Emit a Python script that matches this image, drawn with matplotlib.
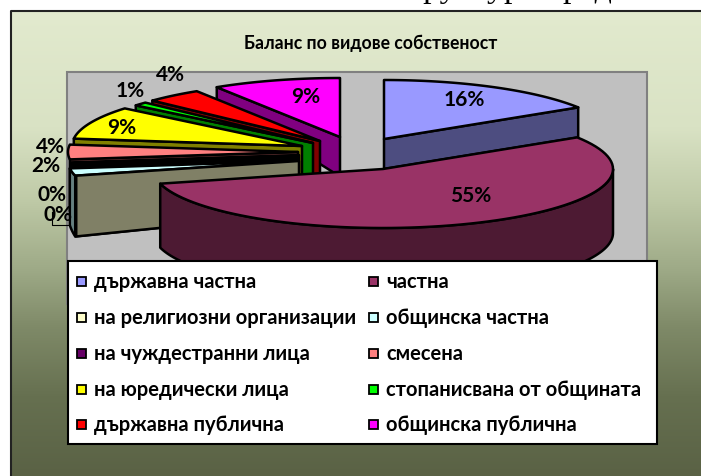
import numpy as np
import matplotlib
matplotlib.use('Agg')
import matplotlib.pyplot as plt
from matplotlib import patches
from matplotlib.colors import LinearSegmentedColormap, to_rgb

title = 'Баланс по видове собственост'
categories = ['държавна частна', 'частна', 'на религиозни организации', 'общинска частна',
              'на чуждестранни лица', 'смесена', 'на юредически лица',
              'стопанисвана от общината', 'държавна публична', 'общинска публична']
values = [16, 55, 0, 2, 0, 4, 9, 1, 4, 9]
colors = ['#9999FF', '#993366', '#FFFFCC', '#CCFFFF', '#660066',
          '#FF8080', '#FFFF00', '#00FF00', '#FF0000', '#FF00FF']

# where each exploded slice has its tip, in pixels
apex = [(384, 140), (383, 170), (299, 162), (298, 162), (299, 156),
        (298, 153), (302, 147), (313, 144), (320, 142), (340, 138)]
label_xy = [(464, 100), (471, 196), (58, 215), (46, 166), (52, 195),
            (50, 147), (122, 128), (130, 91), (170, 75), (306, 97)]
RX, RY = 230, 59

plt.rcParams['font.family'] = ['Lato', 'Noto Sans', 'DejaVu Sans']
fig = plt.figure(figsize=(7.01, 4.77), dpi=100)
ax = fig.add_axes([0, 0, 1, 1])
ax.set_xlim(0, 701)
ax.set_ylim(477, 0)
ax.axis('off')

# background gradient of the chart area
cmap = LinearSegmentedColormap.from_list('bg', [(0, '#E2EACE'), (0.25, '#D9E2C4'), (0.40, '#C0CBA8'),
                                               (0.555, '#9EAA87'), (0.68, '#7F8A68'), (0.83, '#667050'),
                                               (1, '#5A6245')])
ax.imshow(np.linspace(0, 1, 256)[:, None], extent=(11, 701, 477, 12), cmap=cmap, aspect='auto', zorder=0)
ax.plot([11, 11, 701], [477, 12, 12], color='#222222', lw=1.5, zorder=1)
# page text cut off above the chart
ax.text(393, -3.5, 'структура пред', family='Liberation Serif', fontsize=24.5, va='baseline', color='black', zorder=1)

ax.add_patch(patches.Rectangle((67, 73), 580, 232, fc='#C0C0C0', ec='#808080', lw=1.5, zorder=1))


def point(i, theta):
    return apex[i][0] + RX * np.sin(theta), apex[i][1] - RY * np.cos(theta)


def depth(y):
    return np.minimum(61, 12 + 0.55 * (np.asarray(y) - 88))


def dark(c):
    return tuple(v * 0.5 for v in to_rgb(c))


def draw_poly(xy, fc, z):
    ax.add_patch(patches.Polygon(xy, closed=True, fc=fc, ec='black', lw=1.8, joinstyle='round', zorder=z))


edges = np.radians(np.cumsum([0] + values) * 3.6)

# back slices first, the big one goes last so that it covers the inner walls
order = [9, 0, 8, 7, 6, 5, 4, 3, 2, 1]
for z, i in enumerate(order):
    z = z + 2
    t0, t1 = edges[i], edges[i + 1]
    ts = np.linspace(t0, t1, 80)
    xa, ya = apex[i]
    rx, ry = point(i, ts)
    wall_color = 'black' if i == 4 else dark(colors[i])

    if i == 1:
        d = 64
        front = np.linspace(np.pi / 2, t1, 120)
        fx, fy = point(i, front)
        wall = list(zip(fx, fy)) + list(zip(fx[::-1], fy[::-1] + d))
        draw_poly(wall, wall_color, z)
    elif i == 0:
        # end face of the first slice
        x1, y1 = point(i, t1)
        draw_poly([(x1, y1), (xa, ya), (xa, ya + 30), (x1, y1 + 30)], wall_color, z)
    else:
        x0, y0 = point(i, t0)
        draw_poly([(xa, ya), (x0, y0), (x0, y0 + depth(y0)), (xa, ya + depth(ya))], wall_color, z)
        if i == 3:
            draw_poly(list(zip(rx, ry)) + list(zip(rx[::-1], ry[::-1] + depth(ry[::-1]))), wall_color, z)

    if values[i] > 0:
        draw_poly([(xa, ya)] + list(zip(rx, ry)), colors[i], z)

# leader of the lowest 0% label
ax.plot([52, 52, 68], [213, 226, 226], color='black', lw=0.8, zorder=14)

for i, (x, y) in enumerate(label_xy):
    ax.text(x, y, '%d%%' % values[i], ha='center', va='center', fontsize=15, fontweight='bold', zorder=15)

ax.text(371, 43, title, ha='center', va='center', fontsize=12.7, fontweight='bold', zorder=15)

# legend box
ax.add_patch(patches.Rectangle((68, 262), 589, 183, fc='white', ec='black', lw=1.5, zorder=16))
col_x = [77, 369]
row_y = [282, 318, 354, 390, 425]
for i, name in enumerate(categories):
    x = col_x[i % 2]
    y = row_y[i // 2]
    ax.add_patch(patches.Rectangle((x, y - 4.5), 9, 9, fc=colors[i], ec='black', lw=1.3, zorder=17))
    ax.text(x + 17, y, name, ha='left', va='center', fontsize=14.5, fontweight='bold', zorder=17)

fig.savefig('out.png', dpi=100)
